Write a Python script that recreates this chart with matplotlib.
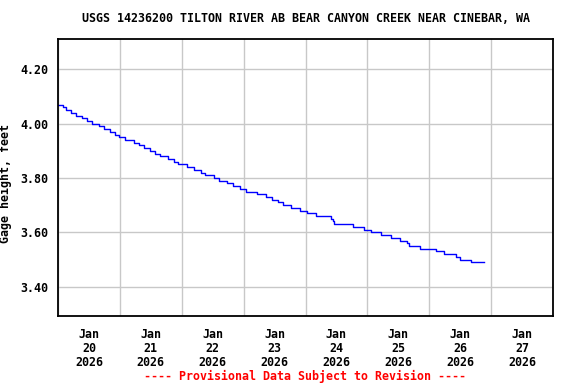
import pandas as pd
import matplotlib
matplotlib.use("Agg")
import matplotlib.pyplot as plt
import matplotlib.dates as mdates

TITLE = "USGS 14236200 TILTON RIVER AB BEAR CANYON CREEK NEAR CINEBAR, WA"
YLABEL = "Gage height, feet"
FOOTER = "---- Provisional Data Subject to Revision ----"

# times where the reading changes (step series)
step_times = [
    "2026-01-20 00:00", "2026-01-20 02:00", "2026-01-20 03:00", "2026-01-20 05:00",
    "2026-01-20 07:00", "2026-01-20 09:15", "2026-01-20 11:15", "2026-01-20 13:15",
    "2026-01-20 16:00", "2026-01-20 18:00", "2026-01-20 20:15", "2026-01-20 22:00",
    "2026-01-20 23:45", "2026-01-21 02:00", "2026-01-21 05:30", "2026-01-21 07:30",
    "2026-01-21 09:30", "2026-01-21 11:45", "2026-01-21 13:30", "2026-01-21 15:30",
    "2026-01-21 18:45", "2026-01-21 21:00", "2026-01-21 22:30", "2026-01-22 02:00",
    "2026-01-22 04:45", "2026-01-22 07:30", "2026-01-22 09:00", "2026-01-22 12:30",
    "2026-01-22 14:30", "2026-01-22 17:30", "2026-01-22 20:00", "2026-01-22 22:45",
    "2026-01-23 01:00", "2026-01-23 05:00", "2026-01-23 08:45", "2026-01-23 11:00",
    "2026-01-23 13:15", "2026-01-23 15:15", "2026-01-23 18:15", "2026-01-23 21:45",
    "2026-01-24 00:30", "2026-01-24 04:15", "2026-01-24 09:45", "2026-01-24 10:30",
    "2026-01-24 11:00", "2026-01-24 18:30", "2026-01-24 22:45", "2026-01-25 01:15",
    "2026-01-25 05:15", "2026-01-25 09:00", "2026-01-25 12:30", "2026-01-25 15:15",
    "2026-01-25 16:15", "2026-01-25 20:15", "2026-01-26 02:30", "2026-01-26 05:45",
    "2026-01-26 10:15", "2026-01-26 12:00", "2026-01-26 16:00", "2026-01-26 21:15",
]
gage_ft = [
    4.07, 4.06, 4.05, 4.04, 4.03, 4.02, 4.01, 4.00,
    3.99, 3.98, 3.97, 3.96, 3.95, 3.94, 3.93, 3.92,
    3.91, 3.90, 3.89, 3.88, 3.87, 3.86, 3.85, 3.84,
    3.83, 3.82, 3.81, 3.80, 3.79, 3.78, 3.77, 3.76,
    3.75, 3.74, 3.73, 3.72, 3.71, 3.70, 3.69, 3.68,
    3.67, 3.66, 3.65, 3.64, 3.63, 3.62, 3.61, 3.60,
    3.59, 3.58, 3.57, 3.56, 3.55, 3.54, 3.53, 3.52,
    3.51, 3.50, 3.49, 3.49,
]
y_ticks = [3.40, 3.60, 3.80, 4.00, 4.20]
x_start = "2026-01-20"
x_end = "2026-01-28"

FONT = "DejaVu Sans Mono"

df = pd.DataFrame({"time": pd.to_datetime(step_times), "gage": gage_ft})

fig = plt.figure(figsize=(5.76, 3.84), dpi=100)
ax = fig.add_axes([58/576, 68/384, 495/576, 277/384])

ax.plot(df["time"], df["gage"], drawstyle="steps-post", color="#0000ff", linewidth=1.0)

ax.set_xlim(pd.Timestamp(x_start), pd.Timestamp(x_end))
ax.set_ylim(3.292, 4.312)

# gridlines at midnight, labels at noon
ax.xaxis.set_major_locator(mdates.DayLocator())
ax.xaxis.set_major_formatter(plt.NullFormatter())
ax.xaxis.set_minor_locator(mdates.HourLocator(byhour=[12]))
ax.xaxis.set_minor_formatter(mdates.DateFormatter("%b\n%d\n%Y"))
ax.tick_params(axis="x", which="both", length=0, pad=9)
for lbl in ax.get_xticklabels(minor=True):
    lbl.set_fontfamily(FONT)
    lbl.set_fontweight("bold")
    lbl.set_fontsize(8.4)
    lbl.set_linespacing(1.05)

ax.set_yticks(y_ticks)
ax.set_yticklabels([f"{v:.2f}" for v in y_ticks], fontfamily=FONT, fontweight="bold", fontsize=8.4)
ax.tick_params(axis="y", length=0, pad=7)

ax.grid(True, which="major", color="#c8c8c8", linewidth=1.0)
ax.set_axisbelow(True)
for s in ax.spines.values():
    s.set_linewidth(1.3)
    s.set_color("black")

ax.set_ylabel(YLABEL, fontfamily=FONT, fontweight="bold", fontsize=8.4)
ax.yaxis.set_label_coords(-46/495, 0.48)

cx = (58 + 553) / 2 / 576
fig.text(cx, 1 - 19/384, TITLE, ha="center", va="center",
         fontfamily=FONT, fontweight="bold", fontsize=8.35)
fig.text(cx, 1 - 376/384, FOOTER, ha="center", va="center", color="#ff0000",
         fontfamily=FONT, fontweight="bold", fontsize=8.4)

fig.savefig("out.png", dpi=100)
